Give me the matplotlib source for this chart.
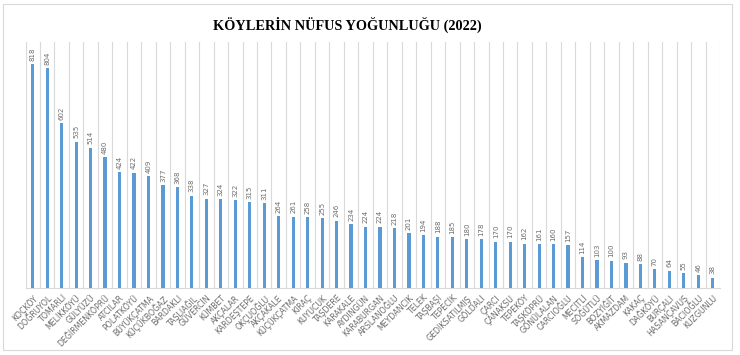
import matplotlib
matplotlib.use("Agg")
import matplotlib.pyplot as plt
import numpy as np
from matplotlib.patches import Rectangle

villages = ["KOÇKÖY", "DOĞRUYOL", "TOMARLI", "MELİKKÖYÜ", "GÜLYÜZÜ", "DEĞİRMENKÖPRÜ",
            "ATCILAR", "POLATKÖYÜ", "BÜYÜKÇATMA", "KÜÇÜKBOĞAZ", "BARDAKLI", "TAŞLIAĞIL",
            "GÜVERCİN", "KÜMBET", "AKÇALAR", "KARDEŞTEPE", "OKÇUOĞLU", "AKÇAKALE",
            "KÜÇÜKÇATMA", "KIRAÇ", "KUYUCUK", "TAŞDERE", "KARAKALE", "AYDINGÜN",
            "KARABURGAN", "ARSLANOĞLU", "MEYDANCIK", "TELEK", "TAŞBAŞI", "TEPECİK",
            "GEDİKSATILMIŞ", "GÖLDALI", "ÇARCI", "ÇANAKSU", "TEPEKÖY", "TAŞKÖPRÜ",
            "GÖNÜLALAN", "CARCIOĞLU", "MECİTLİ", "SÖĞÜTLÜ", "BOZYİĞİT", "AKMAZDAM",
            "KAKAÇ", "DAĞKÖYÜ", "BURÇALI", "HASANÇAVUŞ", "BACIOĞLU", "KUZGUNLU"]
density = [818, 804, 602, 535, 514, 480, 424, 422, 409, 377,
           368, 338, 327, 324, 322, 315, 311, 264, 261, 258,
           255, 246, 234, 224, 224, 218, 201, 194, 188, 185,
           180, 178, 170, 170, 162, 161, 160, 157, 114, 103,
           100, 93, 88, 70, 64, 55, 46, 38]
title = "KÖYLERİN NÜFUS YOĞUNLUĞU (2022)"

fig = plt.figure(figsize=(7.4, 3.55), dpi=100)
ax = fig.add_axes([25.5/740, 1-288/355, (720-25.5)/740, (288-42)/355])

x = np.arange(len(villages))
ax.bar(x, density, width=0.22, color="#5B9BD5", zorder=3)
for xi, v in zip(x, density):
    ax.text(xi, v + 12, str(v), rotation=90, ha="center", va="bottom",
            fontsize=5, color="#6d6d6d")

ax.set_xlim(-0.5, len(villages) - 0.5)
ax.set_ylim(0, 900)
ax.set_yticks([])
ax.set_xticks(x)
ax.set_xticklabels(villages, rotation=45, ha="right", rotation_mode="anchor",
                   fontsize=5.7, color="#6d6d6d")
ax.tick_params(axis="x", length=0, pad=4)
ax.set_xticks(np.arange(-0.5, len(villages)), minor=True)
ax.tick_params(axis="x", which="minor", length=0)
ax.grid(axis="x", which="minor", color="#d9d9d9", linewidth=0.8, zorder=0)
for s in ["top", "left", "right"]:
    ax.spines[s].set_visible(False)
ax.spines["bottom"].set_color("#d9d9d9")
ax.spines["bottom"].set_linewidth(0.8)

fig.text(347/740, 1-25/355, title, ha="center", va="center",
         fontsize=10.3, fontweight="bold", family="Liberation Serif", color="#000000")

fig.patches.append(Rectangle((3/740, 1-350/355), (732-3)/740, (350-4)/355,
                             transform=fig.transFigure, fill=False,
                             edgecolor="#d9d9d9", linewidth=0.8))

fig.savefig("out.png", dpi=100)
